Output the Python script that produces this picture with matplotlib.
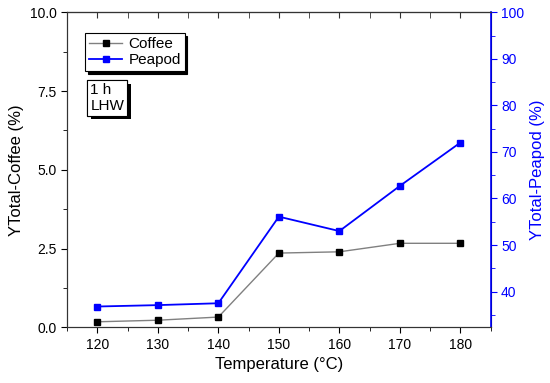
import numpy as np
import matplotlib
matplotlib.use("Agg")
import matplotlib.pyplot as plt
from matplotlib import patheffects
from matplotlib.ticker import MultipleLocator, NullFormatter

plt.rcParams['font.family'] = ['Liberation Sans', 'DejaVu Sans']

temps = [120, 130, 140, 150, 160, 170, 180]
coffee = [0.18, 0.23, 0.33, 2.36, 2.40, 2.67, 2.67]
peapod = [36.8, 37.1, 37.5, 56.1, 53.0, 62.7, 72.0]

BLUE = '#0000ff'

fig = plt.figure(figsize=(5.5, 3.83), dpi=100)
ax = fig.add_axes([0.122, 0.145, 0.770, 0.823])
ax2 = ax.twinx()

l1, = ax.plot(temps, coffee, '-', color='#808080', lw=1.0,
              marker='s', ms=5, mfc='black', mec='black', label='Coffee')
l2, = ax2.plot(temps, peapod, '-', color=BLUE, lw=1.3,
               marker='s', ms=5, mfc=BLUE, mec=BLUE, label='Peapod')

ax.set_xlim(115, 185)
ax.set_ylim(0, 10)
ax2.set_ylim(32.3, 100)

ax.xaxis.set_major_locator(MultipleLocator(10))
ax.xaxis.set_minor_locator(MultipleLocator(5))
ax.yaxis.set_major_locator(MultipleLocator(2.5))
ax.yaxis.set_minor_locator(MultipleLocator(1.25))
ax2.yaxis.set_major_locator(MultipleLocator(10))
ax2.yaxis.set_minor_locator(MultipleLocator(5))
ax.yaxis.set_major_formatter(matplotlib.ticker.FormatStrFormatter('%.1f'))

ax.tick_params(axis='x', which='both', direction='out', labelsize=10)
ax.tick_params(axis='x', which='major', length=4)
ax.tick_params(axis='x', which='minor', length=3)
ax.tick_params(axis='y', which='major', length=4, labelsize=10)
ax.tick_params(axis='y', which='minor', length=3)
ax2.tick_params(axis='y', which='both', colors=BLUE, labelsize=10)
ax2.tick_params(axis='y', which='major', length=4)
ax2.tick_params(axis='y', which='minor', length=3)

# top ticks pointing inward
top = ax.secondary_xaxis('top')
top.xaxis.set_major_locator(MultipleLocator(10))
top.xaxis.set_minor_locator(MultipleLocator(5))
top.xaxis.set_major_formatter(NullFormatter())
top.tick_params(axis='x', which='both', direction='in', length=4, color='#333333')
top.spines['top'].set_color('#333333')

for s in ['left', 'bottom', 'top']:
    ax.spines[s].set_color('#333333')
    ax2.spines[s].set_color('#333333')
ax2.spines['right'].set_color(BLUE)
ax2.spines['right'].set_linewidth(1.2)

ax.set_xlabel('Temperature (°C)', fontsize=12)
ax.set_ylabel('YTotal-Coffee (%)', fontsize=12)
ax2.set_ylabel('YTotal-Peapod (%)', fontsize=12, color=BLUE)

leg = ax2.legend([l1, l2], ['Coffee', 'Peapod'], loc='upper left',
                 bbox_to_anchor=(0.042, 0.934), borderaxespad=0, fontsize=11,
                 fancybox=False, edgecolor='black', framealpha=1, borderpad=0.25,
                 handlelength=2.2, handletextpad=0.4, labelspacing=0.15,
                 shadow={'color': 'black', 'alpha': 1})
leg.get_frame().set_linewidth(0.8)

t = ax2.text(0.055, 0.775, '1 h\nLHW', transform=ax2.transAxes, fontsize=11,
             va='top', ha='left', linespacing=1.15,
             bbox=dict(boxstyle='square,pad=0.2', fc='white', ec='black', lw=0.8))
t.get_bbox_patch().set_path_effects([
    patheffects.withSimplePatchShadow(offset=(2.5, -2.5), shadow_rgbFace='black', alpha=1),
    patheffects.Normal()])

fig.savefig('out.png', dpi=100)
